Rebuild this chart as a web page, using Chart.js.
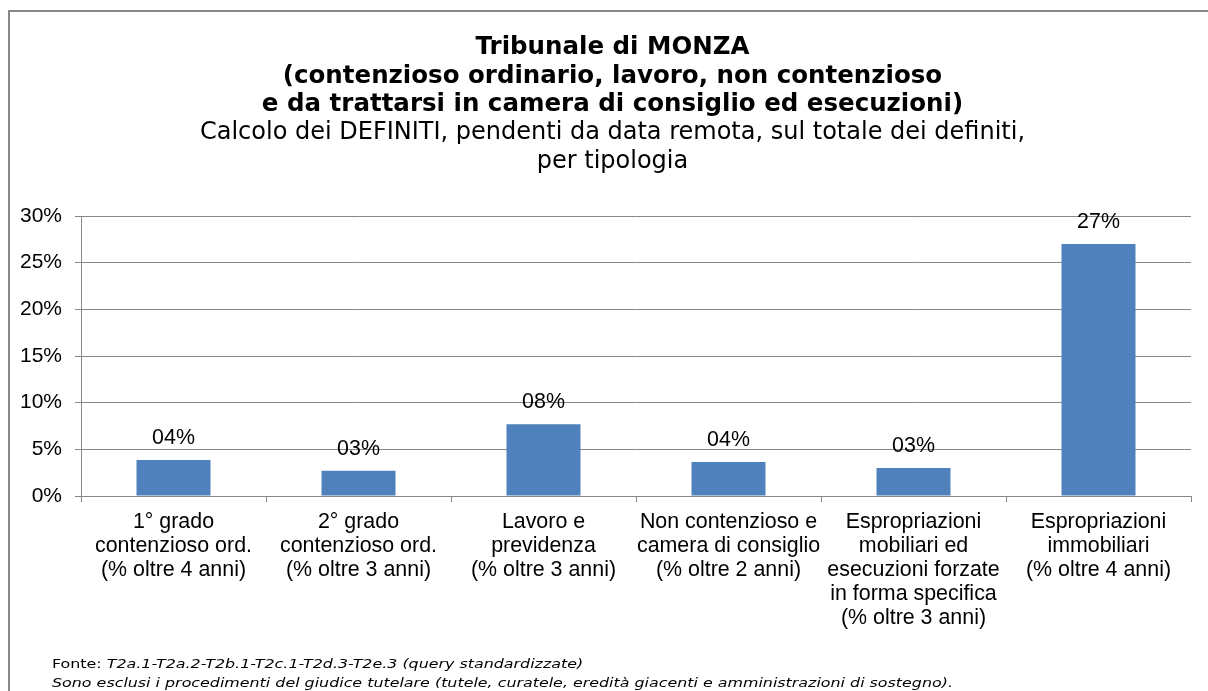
<!DOCTYPE html>
<html>
<head>
<meta charset="utf-8">
<script src="https://cdn.jsdelivr.net/npm/chart.js@4.4.0/dist/chart.umd.min.js"></script>
<style>
  html, body { margin: 0; padding: 0; background: #fff; overflow: hidden; }
  #wrap { position: relative; width: 1208px; height: 691px; }
  #frame { position: absolute; left: 8px; top: 10px; width: 1300px; height: 800px;
           border-left: 2px solid #888; border-top: 2px solid #888; }
  #cv { position: absolute; left: 0; top: 0; }
  #note { position: absolute; left: 52px; top: 654px; font-family: "DejaVu Sans", Verdana, sans-serif;
          font-size: 12.5px; line-height: 19px; color: #000; white-space: nowrap;
          transform: scaleX(1.27); transform-origin: left top; }
  #note i { font-style: italic; }
</style>
</head>
<body>
<div id="wrap">
  <div id="frame"></div>
  <div style="position:absolute;left:0;top:0;width:1208px;height:691px;"><canvas id="cv"></canvas></div>
  <div id="note">
    <div>Fonte: <i>T2a.1-T2a.2-T2b.1-T2c.1-T2d.3-T2e.3 (query standardizzate)</i></div>
    <div><i>Sono esclusi i procedimenti del giudice tutelare (tutele, curatele, eredità giacenti e amministrazioni di sostegno).</i></div>
  </div>
</div>
<script>
// dati
const titleLines = [
  'Tribunale di MONZA',
  '(contenzioso ordinario, lavoro, non contenzioso',
  'e da trattarsi in camera di consiglio ed esecuzioni)'
];
const subtitleLines = [
  'Calcolo dei DEFINITI, pendenti da data remota, sul totale dei definiti,',
  'per tipologia'
];
const categories = [
  ['1° grado', 'contenzioso ord.', '(% oltre 4 anni)'],
  ['2° grado', 'contenzioso ord.', '(% oltre 3 anni)'],
  ['Lavoro e', 'previdenza', '(% oltre 3 anni)'],
  ['Non contenzioso e', 'camera di consiglio', '(% oltre 2 anni)'],
  ['Espropriazioni', 'mobiliari ed', 'esecuzioni forzate', 'in forma specifica', '(% oltre 3 anni)'],
  ['Espropriazioni', 'immobiliari', '(% oltre 4 anni)']
];
const values = [3.85, 2.7, 7.7, 3.65, 3.0, 27.0];
const yTicks = [0, 5, 10, 15, 20, 25, 30];

const fmtLabel = v => String(Math.round(v)).padStart(2, '0') + '%';

// etichette sopra le barre
const barLabels = {
  id: 'barLabels',
  afterDatasetsDraw(chart) {
    const ctx = chart.ctx;
    const meta = chart.getDatasetMeta(0);
    ctx.save();
    ctx.font = '21.4px "Liberation Sans", Arial, sans-serif';
    ctx.fillStyle = '#000';
    ctx.textAlign = 'center';
    ctx.textBaseline = 'middle';
    meta.data.forEach((bar, i) => {
      ctx.fillText(fmtLabel(values[i]), bar.x, bar.y - 22);
    });
    ctx.restore();
  }
};

// titolo un po' spostato a destra, come nell'originale
const shiftTitles = {
  id: 'shiftTitles',
  afterLayout(chart) {
    chart.boxes.forEach(b => {
      if (!b.axis && b.options && 'text' in b.options) { b.left += 13; b.right += 13; }
    });
  }
};

Chart.defaults.color = '#000';
Chart.defaults.font.family = '"Liberation Sans", Arial, sans-serif';

new Chart(document.getElementById('cv'), {
  type: 'bar',
  data: {
    labels: categories,
    datasets: [{
      data: values,
      backgroundColor: '#4F81BD',
      borderWidth: 0,
      barPercentage: 0.4,
      categoryPercentage: 1.0
    }]
  },
  options: {
    responsive: true,
    maintainAspectRatio: false,
    animation: false,
    layout: { padding: { left: 8, right: 17, top: 10, bottom: 45 } },
    plugins: {
      legend: { display: false },
      tooltip: { enabled: false },
      title: {
        display: true,
        text: titleLines,
        color: '#000',
        font: { family: '"DejaVu Sans", Verdana, sans-serif', size: 24.5, weight: 'bold', lineHeight: '28.5px' },
        padding: { top: 23.75, bottom: 0 }
      },
      subtitle: {
        display: true,
        text: subtitleLines,
        color: '#000',
        font: { family: '"DejaVu Sans", Verdana, sans-serif', size: 24, weight: 'normal', lineHeight: '29px' },
        padding: { top: -1, bottom: 39.75 }
      }
    },
    scales: {
      x: {
        grid: { drawOnChartArea: false, drawTicks: true, tickLength: 6, color: '#868686', offset: true },
        border: { color: '#868686', width: 1 },
        ticks: {
          autoSkip: false, maxRotation: 0, minRotation: 0, padding: 8,
          font: { size: 21.4, lineHeight: '24px' }, color: '#000'
        },
        afterFit(scale) { scale.height = 150; }
      },
      y: {
        min: 0, max: 30,
        afterBuildTicks(scale) { scale.ticks = yTicks.map(v => ({ value: v })); },
        grid: { color: '#868686', tickLength: 6 },
        border: { color: '#868686', width: 1 },
        ticks: {
          padding: 13, font: { size: 21 }, color: '#000',
          callback: v => v + '%'
        },
        afterFit(scale) { scale.width = 73; }
      }
    }
  },
  plugins: [barLabels, shiftTitles]
});
</script>
</body>
</html>
